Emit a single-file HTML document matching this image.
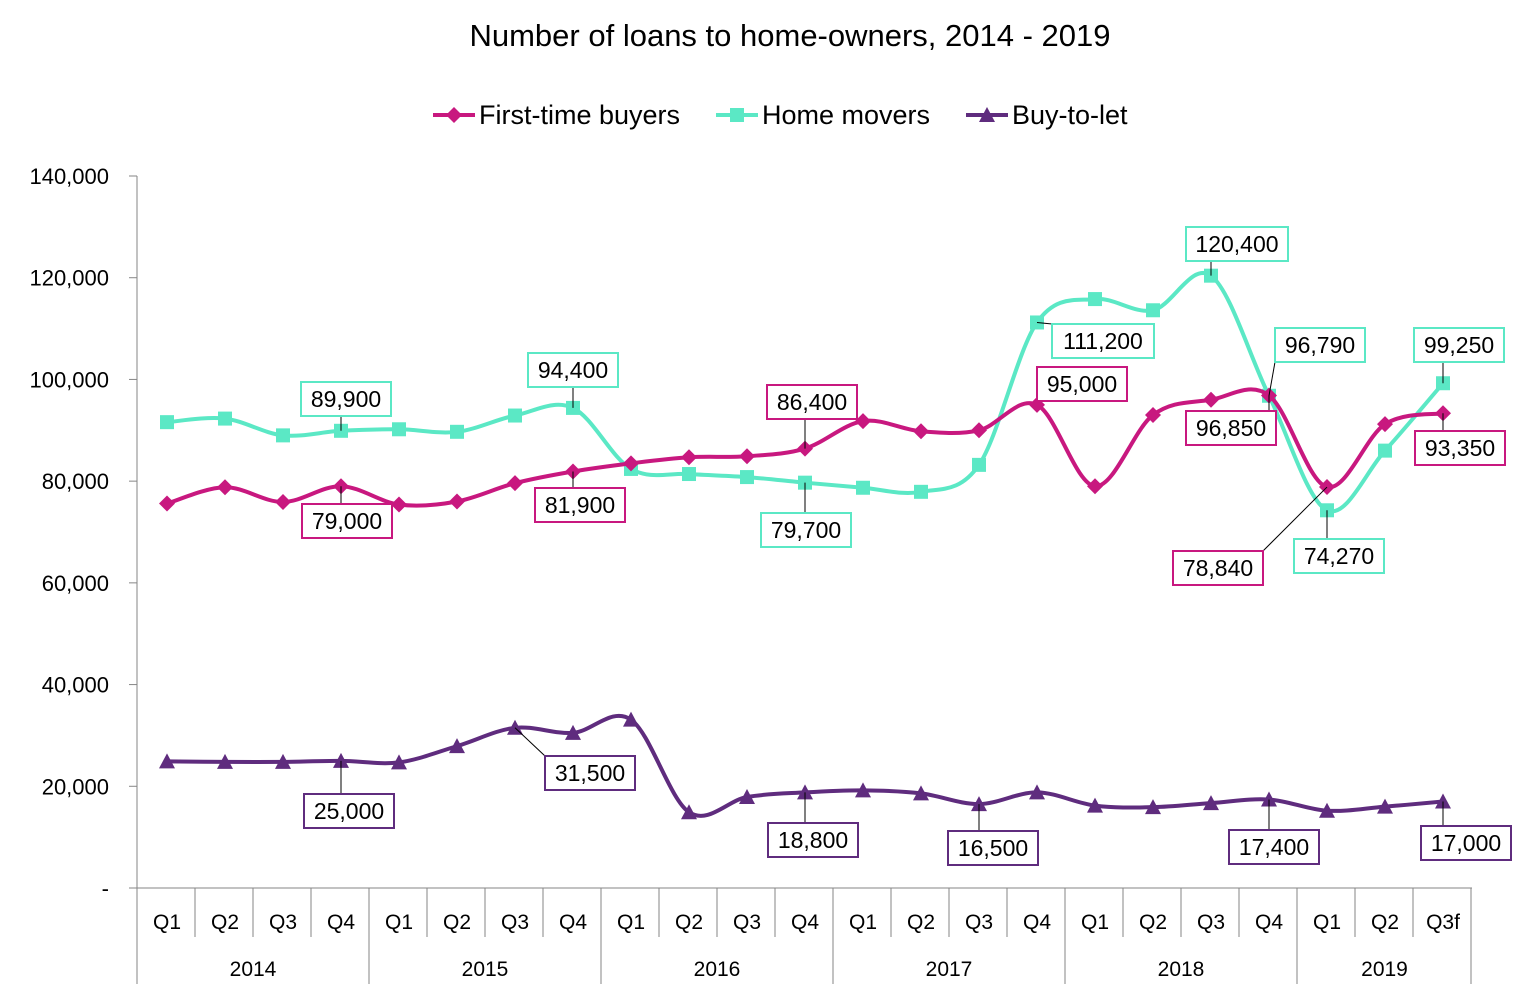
<!DOCTYPE html>
<html><head><meta charset="utf-8">
<style>
html,body{margin:0;padding:0;background:#fff;}
svg{display:block;font-family:"Liberation Sans",sans-serif;}
</style></head><body>
<svg id="c" width="1525" height="996" viewBox="0 0 1525 996" xmlns="http://www.w3.org/2000/svg">
<rect width="1525" height="996" fill="#fff"/>
<text x="790" y="46" font-size="31" text-anchor="middle" fill="#000">Number of loans to home-owners, 2014 - 2019</text>
<g font-size="27" fill="#000">
<line x1="433" y1="115" x2="475" y2="115" stroke="#C8187F" stroke-width="4"/><path d="M454 107 L462 115 L454 123 L446 115Z" fill="#C8187F"/>
<text x="479" y="124">First-time buyers</text>
<line x1="716" y1="115" x2="758" y2="115" stroke="#5BE8C5" stroke-width="4"/><rect x="730" y="108" width="14" height="14" fill="#5BE8C5"/>
<text x="762" y="124">Home movers</text>
<line x1="966" y1="115" x2="1008" y2="115" stroke="#5F2C7E" stroke-width="4"/><path d="M987 107 L995 122 L979 122Z" fill="#5F2C7E"/>
<text x="1012" y="124">Buy-to-let</text>
</g>
<g id="axes"></g>
<g id="series"></g>
<g id="labels"></g>
</svg>
<script>
var NS="http://www.w3.org/2000/svg";
function el(p,t,a,txt){var e=document.createElementNS(NS,t);for(var k in a)e.setAttribute(k,a[k]);if(txt!==undefined)e.textContent=txt;p.appendChild(e);return e;}
function Y(v){return 888-v*712/140000;}
function X(i){return 167+i*58;}
var ax=document.getElementById('axes');
el(ax,'line',{x1:137,y1:176,x2:137,y2:984,stroke:'#868686','stroke-width':1});
for(var v=0;v<=140000;v+=20000){
 var y=Y(v);
 el(ax,'line',{x1:129,y1:y,x2:137,y2:y,stroke:'#868686'});
 el(ax,'text',{x:109,y:y+8,'font-size':22,'text-anchor':'end',fill:'#000'},v==0?'-':v.toLocaleString('en-US'));
}
el(ax,'line',{x1:129,y1:888,x2:1472,y2:888,stroke:'#868686'});
var q=['Q1','Q2','Q3','Q4'];
for(var i=0;i<23;i++){
 el(ax,'text',{x:X(i),y:929,'font-size':21,'text-anchor':'middle',fill:'#000'},i==22?'Q3f':q[i%4]);
}
for(var k=0;k<=23;k++){
 var x=137+k*58; var yr=(k%4==0)||k==23;
 el(ax,'line',{x1:x,y1:888,x2:x,y2:yr?984:937,stroke:'#868686'});
}
var yrs=['2014','2015','2016','2017','2018','2019'];
for(var j=0;j<6;j++){var x0=137+j*232,x1=j==5?1472:x0+232;el(ax,'text',{x:(x0+x1)/2,y:976,'font-size':21,'text-anchor':'middle',fill:'#000'},yrs[j]);}
var ftb=[75600,78800,75900,79000,75400,76000,79600,81900,83500,84700,84900,86400,91800,89800,90000,95000,79000,93000,96000,96850,78840,91200,93350];
var hm=[91600,92300,89000,89900,90200,89700,92900,94400,82400,81400,80800,79700,78700,77900,83200,111200,115800,113600,120400,96790,74270,86000,99250];
var btl=[24900,24800,24800,25000,24700,27900,31500,30500,33100,14900,17900,18800,19200,18600,16500,18800,16200,15900,16700,17400,15200,16000,17000];
function path(d){var p=d.map(function(v,i){return [X(i),Y(v)];});var s='M'+p[0][0]+' '+p[0][1];
 for(var i=0;i<p.length-1;i++){var p0=p[i-1]||p[i],p1=p[i],p2=p[i+1],p3=p[i+2]||p[i+1];
  var c1=[p1[0]+(p2[0]-p0[0])/6,p1[1]+(p2[1]-p0[1])/6],c2=[p2[0]-(p3[0]-p1[0])/6,p2[1]-(p3[1]-p1[1])/6];
  s+=' C'+c1[0]+' '+c1[1]+' '+c2[0]+' '+c2[1]+' '+p2[0]+' '+p2[1];}return s;}
var sg=document.getElementById('series');
function series(d,col,m){el(sg,'path',{d:path(d),fill:'none',stroke:col,'stroke-width':4});
 d.forEach(function(v,i){var x=X(i),y=Y(v);
  if(m=='d')el(sg,'path',{d:'M'+x+' '+(y-8)+' L'+(x+8)+' '+y+' L'+x+' '+(y+8)+' L'+(x-8)+' '+y+'Z',fill:col});
  else if(m=='s')el(sg,'rect',{x:x-7,y:y-7,width:14,height:14,fill:col});
  else el(sg,'path',{d:'M'+x+' '+(y-8)+' L'+(x+8)+' '+(y+7)+' L'+(x-8)+' '+(y+7)+'Z',fill:col});});}
series(hm,'#5BE8C5','s');series(ftb,'#C8187F','d');series(btl,'#5F2C7E','t');
var lg=document.getElementById('labels');
var L=[
['79,000',347,521,'#C8187F',3,ftb],['81,900',580,505,'#C8187F',7,ftb],['86,400',812,402,'#C8187F',11,ftb],['95,000',1082,384,'#C8187F',15,ftb],['96,850',1231,428,'#C8187F',19,ftb],['78,840',1218,568,'#C8187F',20,ftb],['93,350',1460,448,'#C8187F',22,ftb],
['89,900',346,399,'#5BE8C5',3,hm],['94,400',573,370,'#5BE8C5',7,hm],['79,700',806,530,'#5BE8C5',11,hm],['111,200',1103,341,'#5BE8C5',15,hm],['120,400',1237,244,'#5BE8C5',18,hm],['96,790',1320,345,'#5BE8C5',19,hm],['74,270',1339,556,'#5BE8C5',20,hm],['99,250',1459,345,'#5BE8C5',22,hm],
['25,000',349,811,'#5F2C7E',3,btl],['31,500',590,773,'#5F2C7E',6,btl],['18,800',813,840,'#5F2C7E',11,btl],['16,500',993,848,'#5F2C7E',14,btl],['17,400',1274,847,'#5F2C7E',19,btl],['17,000',1466,843,'#5F2C7E',22,btl]];
L.forEach(function(l){var w=l[0].length>6?102:90,h=34,cx=l[1],cy=l[2],px=X(l[4]),py=l[5][l[4]];py=Y(py);
 var bx=Math.max(cx-w/2,Math.min(px,cx+w/2)),by=Math.max(cy-h/2,Math.min(py,cy+h/2));
 if(Math.abs(px-cx)>w/2+4||Math.abs(py-cy)>h/2+4)el(lg,'line',{x1:px,y1:py,x2:bx,y2:by,stroke:'#000','stroke-width':1});
 el(lg,'rect',{x:cx-w/2,y:cy-h/2,width:w,height:h,fill:'#fff',stroke:l[3],'stroke-width':2});
 el(lg,'text',{x:cx,y:cy+8,'font-size':23,'text-anchor':'middle',fill:'#000'},l[0]);});
</script>
</body></html>
